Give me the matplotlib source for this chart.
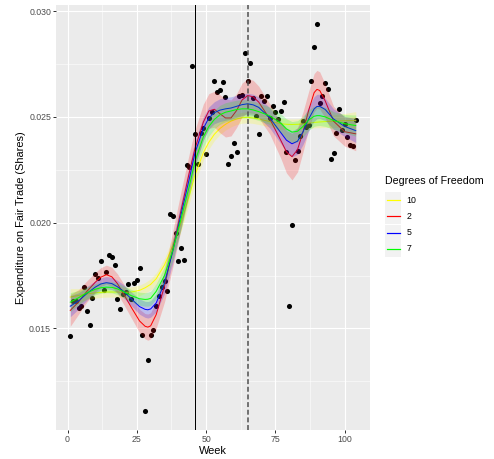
import numpy as np
import matplotlib
matplotlib.use("Agg")
import matplotlib.pyplot as plt
from matplotlib.patches import Rectangle
from matplotlib.lines import Line2D

# weekly fair trade expenditure shares
weeks = np.arange(1, 105)
shares = np.array([
    0.01462, 0.01628, 0.01631, 0.01598, 0.01605, 0.01697, 0.01580, 0.01518,
    0.01645, 0.01755, 0.01740, 0.01818, 0.01683, 0.01766, 0.01848, 0.01839,
    0.01802, 0.01640, 0.01590, 0.01664, 0.01670, 0.01708, 0.01640, 0.01714,
    0.01727, 0.01785, 0.01470, 0.01111, 0.01350, 0.01467, 0.01491, 0.01604,
    0.01655, 0.01697, 0.01723, 0.01678, 0.02042, 0.02032, 0.01952, 0.01820,
    0.01878, 0.01823, 0.02273, 0.02262, 0.02743, 0.02417, 0.02275, 0.02423,
    0.02446, 0.02323, 0.02494, 0.02525, 0.02668, 0.02618, 0.02628, 0.02667,
    0.02593, 0.02275, 0.02314, 0.02376, 0.02336, 0.02601, 0.02604, 0.02801,
    0.02670, 0.02753, 0.02591, 0.02502, 0.02418, 0.02601, 0.02576, 0.02601,
    0.02497, 0.02550, 0.02525, 0.02492, 0.02530, 0.02572, 0.02336, 0.01604,
    0.01988, 0.02298, 0.02341, 0.02409, 0.02479, 0.02451, 0.02462, 0.02668,
    0.02831, 0.02940, 0.02568, 0.02598, 0.02658, 0.02631, 0.02302, 0.02330,
    0.02426, 0.02535, 0.02440, 0.02467, 0.02404, 0.02369, 0.02361, 0.02484,
])

# spline smoothers: fitted value and half width of the 95% band
fit_weeks = [1, 4, 7, 10, 12, 14, 16, 18, 20, 23, 26, 28, 29, 30, 32, 35,
             38, 41, 44, 46, 49, 51, 53, 55, 57, 59, 61, 63, 65, 67, 69, 73,
             77, 79, 81, 83, 85, 87, 89, 90, 91, 93, 96, 100, 104]

fit_10 = [0.01648, 0.01656, 0.01663, 0.01668, 0.01670, 0.01672, 0.01672,
          0.01672, 0.01670, 0.01672, 0.01680, 0.01692, 0.01700, 0.01708,
          0.01735, 0.01800, 0.01890, 0.02000, 0.02130, 0.02225, 0.02330,
          0.02380, 0.02418, 0.02445, 0.02465, 0.02480, 0.02490, 0.02496,
          0.02498, 0.02495, 0.02490, 0.02478, 0.02468, 0.02465, 0.02464,
          0.02465, 0.02467, 0.02470, 0.02474, 0.02475, 0.02476, 0.02478,
          0.02480, 0.02482, 0.02483]
band_10 = [0.00040, 0.00032, 0.00027, 0.00025, 0.00024, 0.00024, 0.00024,
           0.00024, 0.00024, 0.00024, 0.00025, 0.00025, 0.00026, 0.00026,
           0.00028, 0.00032, 0.00036, 0.00038, 0.00038, 0.00037, 0.00035,
           0.00032, 0.00030, 0.00028, 0.00027, 0.00027, 0.00026, 0.00026,
           0.00026, 0.00026, 0.00026, 0.00026, 0.00026, 0.00026, 0.00026,
           0.00026, 0.00026, 0.00026, 0.00026, 0.00026, 0.00027, 0.00028,
           0.00030, 0.00034, 0.00042]

fit_2 = [0.01585, 0.01625, 0.01675, 0.01718, 0.01742, 0.01754, 0.01744,
         0.01712, 0.01668, 0.01600, 0.01535, 0.01510, 0.01506, 0.01512,
         0.01565, 0.01700, 0.01875, 0.02060, 0.02240, 0.02350, 0.02475,
         0.02528, 0.02536, 0.02515, 0.02495, 0.02495, 0.02530, 0.02580,
         0.02601, 0.02595, 0.02570, 0.02490, 0.02388, 0.02335, 0.02312,
         0.02345, 0.02430, 0.02530, 0.02615, 0.02630, 0.02625, 0.02575,
         0.02480, 0.02430, 0.02420]
band_2 = [0.00075, 0.00058, 0.00050, 0.00046, 0.00045, 0.00045, 0.00045,
          0.00046, 0.00048, 0.00050, 0.00055, 0.00060, 0.00062, 0.00062,
          0.00065, 0.00075, 0.00085, 0.00090, 0.00090, 0.00088, 0.00085,
          0.00082, 0.00085, 0.00090, 0.00090, 0.00085, 0.00080, 0.00080,
          0.00080, 0.00078, 0.00075, 0.00072, 0.00085, 0.00100, 0.00110,
          0.00105, 0.00095, 0.00090, 0.00090, 0.00090, 0.00088, 0.00080,
          0.00070, 0.00068, 0.00080]

fit_5 = [0.01605, 0.01630, 0.01665, 0.01695, 0.01710, 0.01716, 0.01712,
         0.01697, 0.01678, 0.01640, 0.01603, 0.01590, 0.01588, 0.01592,
         0.01620, 0.01715, 0.01865, 0.02040, 0.02210, 0.02330, 0.02445,
         0.02495, 0.02520, 0.02532, 0.02538, 0.02542, 0.02550, 0.02558,
         0.02562, 0.02557, 0.02545, 0.02495, 0.02425, 0.02390, 0.02373,
         0.02385, 0.02430, 0.02490, 0.02538, 0.02549, 0.02550, 0.02535,
         0.02490, 0.02455, 0.02435]
band_5 = [0.00050, 0.00038, 0.00032, 0.00030, 0.00029, 0.00029, 0.00029,
          0.00030, 0.00031, 0.00033, 0.00036, 0.00038, 0.00039, 0.00039,
          0.00042, 0.00050, 0.00056, 0.00060, 0.00060, 0.00058, 0.00055,
          0.00052, 0.00052, 0.00054, 0.00054, 0.00053, 0.00052, 0.00051,
          0.00050, 0.00050, 0.00049, 0.00048, 0.00052, 0.00058, 0.00062,
          0.00062, 0.00060, 0.00058, 0.00058, 0.00058, 0.00057, 0.00053,
          0.00048, 0.00048, 0.00056]

fit_7 = [0.01624, 0.01645, 0.01668, 0.01685, 0.01692, 0.01695, 0.01694,
         0.01687, 0.01675, 0.01655, 0.01640, 0.01637, 0.01638, 0.01642,
         0.01675, 0.01750, 0.01870, 0.02020, 0.02175, 0.02290, 0.02405,
         0.02455, 0.02488, 0.02510, 0.02522, 0.02528, 0.02535, 0.02538,
         0.02538, 0.02533, 0.02525, 0.02505, 0.02470, 0.02443, 0.02428,
         0.02432, 0.02455, 0.02485, 0.02503, 0.02506, 0.02506, 0.02500,
         0.02483, 0.02468, 0.02459]
band_7 = [0.00045, 0.00034, 0.00028, 0.00026, 0.00026, 0.00026, 0.00026,
          0.00027, 0.00028, 0.00029, 0.00031, 0.00032, 0.00033, 0.00033,
          0.00036, 0.00042, 0.00048, 0.00050, 0.00050, 0.00049, 0.00047,
          0.00045, 0.00044, 0.00045, 0.00045, 0.00045, 0.00044, 0.00043,
          0.00043, 0.00042, 0.00042, 0.00041, 0.00044, 0.00048, 0.00050,
          0.00050, 0.00049, 0.00048, 0.00048, 0.00048, 0.00047, 0.00045,
          0.00042, 0.00043, 0.00050]

labels = ["10", "2", "5", "7"]
colours = ["#FFFF00", "#FF0000", "#0000FF", "#00FF00"]
fits = [fit_10, fit_2, fit_5, fit_7]
bands = [band_10, band_2, band_5, band_7]

event_weeks = [46, 65]

DPI = 72
W, H = 494, 459


def px(x, y):
    # pixel position -> figure fraction
    return x / W, 1 - y / H


fig = plt.figure(figsize=(W / DPI, H / DPI), dpi=DPI)
fig.patch.set_facecolor("white")
left, right, top, bottom = 56, 370, 4.5, 430
ax = fig.add_axes([left / W, 1 - bottom / H, (right - left) / W, (bottom - top) / H])
ax.set_facecolor("#EBEBEB")
for s in ax.spines.values():
    s.set_visible(False)

ax.scatter(weeks, shares, s=26, color="black", linewidths=0, zorder=3)

# ribbon then line for every smoother, in legend order
z = 4
for col, f, b in zip(colours, fits, bands):
    f = np.array(f)
    b = np.array(b)
    ax.fill_between(fit_weeks, f - b, f + b, color=col, alpha=0.2,
                    linewidth=0, zorder=z)
    ax.plot(fit_weeks, f, color=col, lw=1.0, zorder=z + 0.5,
            solid_joinstyle="round")
    z += 1

ax.axvline(event_weeks[0], color="black", lw=1.0, zorder=10)
ax.axvline(event_weeks[1], color="#4D4D4D", lw=1.5, ls=(0, (3.3, 1.8)), zorder=10)

xr = weeks.max() - weeks.min()
ax.set_xlim(weeks.min() - 0.05 * xr, weeks.max() + 0.05 * xr)
yr = shares.max() - shares.min()
ax.set_ylim(shares.min() - 0.05 * yr, shares.max() + 0.05 * yr)

ax.set_xticks([0, 25, 50, 75, 100])
ax.set_xticks([12.5, 37.5, 62.5, 87.5], minor=True)
ax.set_yticks([0.015, 0.020, 0.025, 0.030])
ax.set_yticklabels(["0.015", "0.020", "0.025", "0.030"])
ax.set_yticks([0.0125, 0.0175, 0.0225, 0.0275], minor=True)
ax.grid(which="major", color="white", lw=1.1)
ax.grid(which="minor", color="white", lw=0.55)
ax.set_axisbelow(True)
ax.tick_params(which="major", length=2.75, width=1.0, color="#333333",
               labelsize=8.8, labelcolor="#4D4D4D", pad=2.2)
ax.tick_params(which="minor", length=0)
for t in ax.get_xticklabels() + ax.get_yticklabels():
    t.set_fontfamily("Liberation Sans")

ax.set_xlabel("Week", fontsize=11, fontfamily="Liberation Sans", labelpad=2)
ax.set_ylabel("Expenditure on Fair Trade (Shares)", fontsize=11,
              fontfamily="Liberation Sans", labelpad=3)

# legend drawn by hand
fig.text(*px(385, 184), "Degrees of Freedom", fontsize=10.6,
         fontfamily="Liberation Sans", va="baseline", ha="left")
key_w, key_h, step = 16, 16, 16.3
for i, (lab, col) in enumerate(zip(labels, colours)):
    cy = 200 + i * step
    x0, y0 = px(385, cy + key_h / 2)
    fig.patches.append(Rectangle((x0, y0), key_w / W, key_h / H,
                                 transform=fig.transFigure,
                                 facecolor="#F2F2F2", edgecolor="none"))
    fig.lines.append(Line2D([386.5 / W, 399.5 / W], [1 - cy / H] * 2,
                            transform=fig.transFigure, color=col, lw=1.2))
    fig.text(*px(406.5, cy), lab, fontsize=8.8, fontfamily="Liberation Sans",
             va="center", ha="left")

fig.savefig("out.png", dpi=DPI)
